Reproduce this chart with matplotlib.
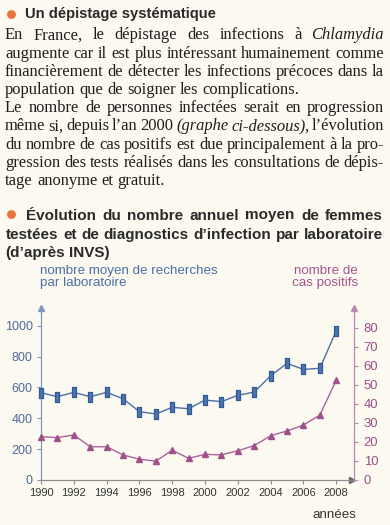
import matplotlib
matplotlib.use("Agg")
import matplotlib.pyplot as plt
from matplotlib.lines import Line2D

# ---------------- data ----------------
years = list(range(1990, 2009))
recherches = [566, 540, 568, 540, 568, 527, 443, 428, 471, 462, 518, 508, 549, 570, 676, 756, 717, 724, 968]
positifs = [22.8, 22.3, 23.7, 17.5, 17.5, 13.2, 10.9, 10.0, 15.6, 11.4, 13.5, 13.2, 15.4, 18.1, 23.3, 25.8, 28.9, 34.2, 52.6]
left_ticks = [0, 200, 400, 600, 800, 1000]
right_ticks = [0, 10, 20, 30, 40, 50, 60, 70, 80]
x_ticks = list(range(1990, 2009, 2))

title1 = "Un dépistage systématique"
# each line: list of (text, style, attached_to_previous)
body_lines = [
    [("En", "normal", False), ("France,", "normal", False), ("le", "normal", False),
     ("dépistage", "normal", False), ("des", "normal", False), ("infections", "normal", False),
     ("à", "normal", False), ("Chlamydia", "italic", False)],
    "augmente car il est plus intéressant humainement comme",
    "financièrement de détecter les infections précoces dans la",
    "population que de soigner les complications.",
    "Le nombre de personnes infectées serait en progression",
    [("même", "normal", False), ("si,", "normal", False), ("depuis", "normal", False),
     ("l’an", "normal", False), ("2000", "normal", False), ("(graphe", "italic", False),
     ("ci-dessous)", "italic", False), (",", "normal", True), ("l’évolution", "normal", False)],
    "du nombre de cas positifs est due principalement à la pro-",
    "gression des tests réalisés dans les consultations de dépis-",
    "tage anonyme et gratuit.",
]
body_justify = [True, True, True, False, True, True, True, True, False]
title2_lines = ["Évolution du nombre annuel moyen de femmes",
                "testées et de diagnostics d’infection par laboratoire",
                "(d’après INVS)"]
left_label = "nombre moyen de recherches\npar laboratoire"
right_label = "nombre de\ncas positifs"
x_label = "années"

# ---------------- style ----------------
W, H = 390, 525
BG = "#fcfaf0"
BLUE = "#4a6fa6"
BLUE_DARK = "#2f5a96"
BLUE_FACE = "#4d74ad"
PINK = "#a9629a"
PINK_DARK = "#a04f8b"
ORANGE = "#ec7440"
TXT = "#2a2a2a"

fig = plt.figure(figsize=(W / 100, H / 100), dpi=100, facecolor=BG)
renderer = fig.canvas.get_renderer()


def fx(px):
    return px / W


def fy(py):
    return 1 - py / H


def measure(s, **kw):
    t = fig.text(0.5, 0.5, s, **kw)
    w = t.get_window_extent(renderer).width
    t.remove()
    return w


def draw_line(items, x0, x1, y, justify, size, family, weight="normal", color=TXT):
    if isinstance(items, str):
        items = [(w, "normal", False) for w in items.split(" ")]
    kw = dict(fontsize=size, family=family, weight=weight)
    space = measure("n n", style="normal", **kw) - measure("nn", style="normal", **kw)
    lefts = []
    x = 0.0
    for i, (txt, st, att) in enumerate(items):
        w = measure(txt, style=st, **kw)
        if i > 0:
            x += -0.8 if att else space
        lefts.append(x)
        x += w
    natural = x
    ngaps = sum(1 for i, it in enumerate(items) if i > 0 and not it[2])
    extra = (x1 - x0 - natural) / ngaps if (justify and ngaps) else 0.0
    k = 0
    for i, (txt, st, att) in enumerate(items):
        if i > 0 and not att:
            k += 1
        fig.text(fx(x0 + lefts[i] + k * extra), fy(y), txt, style=st, color=color,
                 va="baseline", ha="left", **kw)


def bullet(x, y):
    fig.add_artist(Line2D([fx(x)], [fy(y)], marker="o", ms=5.4, color=ORANGE,
                          mec=ORANGE, transform=fig.transFigure))


# ---- heading 1 ----
bullet(11, 13.8)
fig.text(fx(25), fy(18.3), title1, fontsize=10.6, family="Liberation Sans", weight="bold",
         color=TXT, va="baseline")

# ---- body ----
for i, (ln, j) in enumerate(zip(body_lines, body_justify)):
    draw_line(ln, 5, 384, 39.3 + 18.2 * i, j, 11.9, "Liberation Serif", color="#1e1e1e")

# ---- heading 2 ----
bullet(11, 213.7)
draw_line(title2_lines[0], 26, 383, 219.5, True, 11, "Liberation Sans", weight="bold")
draw_line(title2_lines[1], 6, 383, 239.3, True, 11, "Liberation Sans", weight="bold")
draw_line(title2_lines[2], 5, 383, 256.5, False, 11, "Liberation Sans", weight="bold")

# ---------------- chart ----------------
ax = fig.add_axes([fx(41), 1 - 480 / H, fx(354 - 41), (480 - 308) / H])
ax.set_facecolor("none")
ax2 = ax.twinx()
ax2.set_facecolor("none")

rect = [(-0.16, -0.5), (0.16, -0.5), (0.16, 0.5), (-0.16, 0.5), (-0.16, -0.5)]
ax.plot(years, recherches, color=BLUE, lw=1.0, marker=rect, ms=7.2, mfc=BLUE_FACE,
        mec=BLUE_DARK, mew=0.9, zorder=3, clip_on=False)
ax2.plot(years, positifs, color=PINK, lw=1.0, marker="^", ms=4.2, mfc=PINK_DARK,
         mec=PINK_DARK, zorder=3, clip_on=False)

ax.set_xlim(1990, 2009.08)
ax.set_ylim(0, 1115)
ax2.set_ylim(0, 90.5)

SPL = "#8197bb"
SPR = "#b98aae"
SPB = "#8c8c8c"
for s in ["top", "right"]:
    ax.spines[s].set_visible(False)
for s in ["top", "left", "bottom"]:
    ax2.spines[s].set_visible(False)
ax.spines["left"].set_color(SPL)
ax.spines["bottom"].set_color(SPB)
ax2.spines["right"].set_color(SPR)
for sp in (ax.spines["left"], ax.spines["bottom"], ax2.spines["right"]):
    sp.set_linewidth(0.9)

ax.set_xticks(x_ticks)
ax.set_xticklabels([str(v) for v in x_ticks])
ax.tick_params(axis="x", direction="out", length=3, width=0.8, color=SPB, pad=3,
               labelsize=8, labelcolor="#333333")
ax.set_yticks(left_ticks)
ax.set_yticklabels([str(v) for v in left_ticks])
ax.tick_params(axis="y", direction="out", length=3, width=0.8, color=SPL, pad=3,
               labelsize=9, labelcolor="#4f6b9c")
ax2.set_yticks(right_ticks)
ax2.set_yticklabels([str(v) for v in right_ticks])
ax2.tick_params(axis="y", direction="out", length=3, width=0.8, color=SPR, pad=4,
                labelsize=9.4, labelcolor="#9c4d88")
for a in (ax, ax2):
    for lab in a.get_xticklabels() + a.get_yticklabels():
        lab.set_family("Liberation Sans")

# axis arrows
ax.plot([0], [1], marker="^", ms=4, color=SPL, transform=ax.transAxes, clip_on=False)
ax2.plot([1], [1], marker="^", ms=4, color=SPR, transform=ax2.transAxes, clip_on=False)
ax.plot([0.995], [0], marker=">", ms=4, color="#666666", transform=ax.transAxes, clip_on=False)

# labels
fig.text(fx(40.5), fy(286), left_label, fontsize=9.6, family="Liberation Sans",
         color=BLUE, va="baseline", ha="left", linespacing=1.05)
fig.text(fx(358), fy(286), right_label, fontsize=9.6, family="Liberation Sans",
         color="#a3558f", va="baseline", ha="right", linespacing=1.05, multialignment="right")
fig.text(fx(356), fy(518), x_label, fontsize=9.6, family="Liberation Sans",
         color="#333333", va="baseline", ha="right")

fig.savefig("out.png", dpi=100, facecolor=BG)
